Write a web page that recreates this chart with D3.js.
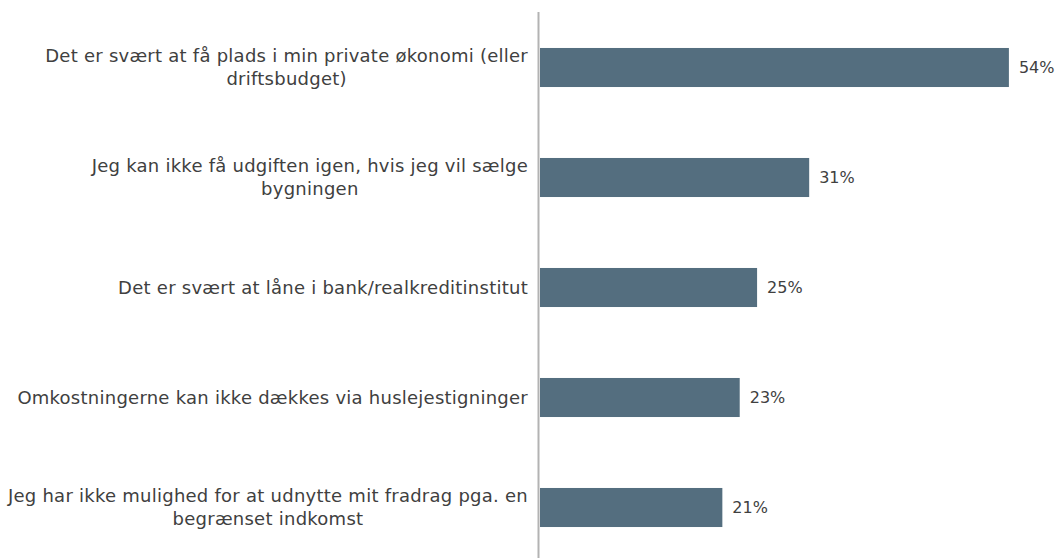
<!DOCTYPE html>
<html>
<head>
<meta charset="utf-8">
<script src="https://cdn.jsdelivr.net/npm/d3@7"></script>
<style>
  body { margin: 0; background: #fff; }
  svg { display: block; }
</style>
</head>
<body>
<svg id="chart" width="1060" height="558"></svg>
<script>
// categories (each entry = lines of the wrapped label)
const categories = [
  ["Det er svært at få plads i min private økonomi (eller", "driftsbudget)"],
  ["Jeg kan ikke få udgiften igen, hvis jeg vil sælge", "bygningen"],
  ["Det er svært at låne i bank/realkreditinstitut"],
  ["Omkostningerne kan ikke dækkes via huslejestigninger"],
  ["Jeg har ikke mulighed for at udnytte mit fradrag pga. en", "begrænset indkomst"]
];
const values = [54, 31, 25, 23, 21];

const svg = d3.select("#chart");
const font = "'DejaVu Sans', sans-serif";

const x = d3.scaleLinear().domain([0, 60]).range([540, 1061]);
const y = d3
  .scaleBand()
  .domain(d3.range(categories.length))
  .range([12.5, 562.5])
  .paddingInner(0.645)
  .paddingOuter(0.3225);

// bars
svg
  .append("g")
  .selectAll("rect")
  .data(values)
  .join("rect")
  .attr("x", x(0))
  .attr("y", (d, i) => y(i))
  .attr("width", (d) => x(d) - x(0))
  .attr("height", y.bandwidth())
  .attr("fill", "#546e7f");

// vertical axis line
svg
  .append("line")
  .attr("x1", 538.5)
  .attr("x2", 538.5)
  .attr("y1", 12)
  .attr("y2", 558)
  .attr("stroke", "#b3b3b3")
  .attr("stroke-width", 2);

// value labels
svg
  .append("g")
  .selectAll("text")
  .data(values)
  .join("text")
  .attr("x", (d) => x(d) + 10)
  .attr("y", (d, i) => y(i) + y.bandwidth() / 2)
  .attr("dy", "0.35em")
  .style("font-family", font)
  .style("font-size", "16px")
  .style("fill", "#404040")
  .text((d) => d + "%");

// category labels, centred block whose right edge sits at 528
const rightEdge = 528;
const lineH = 23;
const labels = svg
  .append("g")
  .selectAll("text")
  .data(categories)
  .join("text")
  .style("font-family", font)
  .style("font-size", "18px")
  .style("letter-spacing", "0.25px")
  .style("fill", "#404040")
  .attr("text-anchor", "middle");

labels.each(function (lines, i) {
  const t = d3.select(this);
  const cy = y(i) + y.bandwidth() / 2;
  const top = cy - ((lines.length - 1) * lineH) / 2;
  const spans = t
    .selectAll("tspan")
    .data(lines)
    .join("tspan")
    .attr("y", (d, j) => top + j * lineH)
    .attr("dy", "0.35em")
    .text((d) => d);
  let maxW = 0;
  spans.each(function () {
    maxW = Math.max(maxW, this.getComputedTextLength());
  });
  spans.attr("x", rightEdge - maxW / 2);
});
</script>
</body>
</html>
